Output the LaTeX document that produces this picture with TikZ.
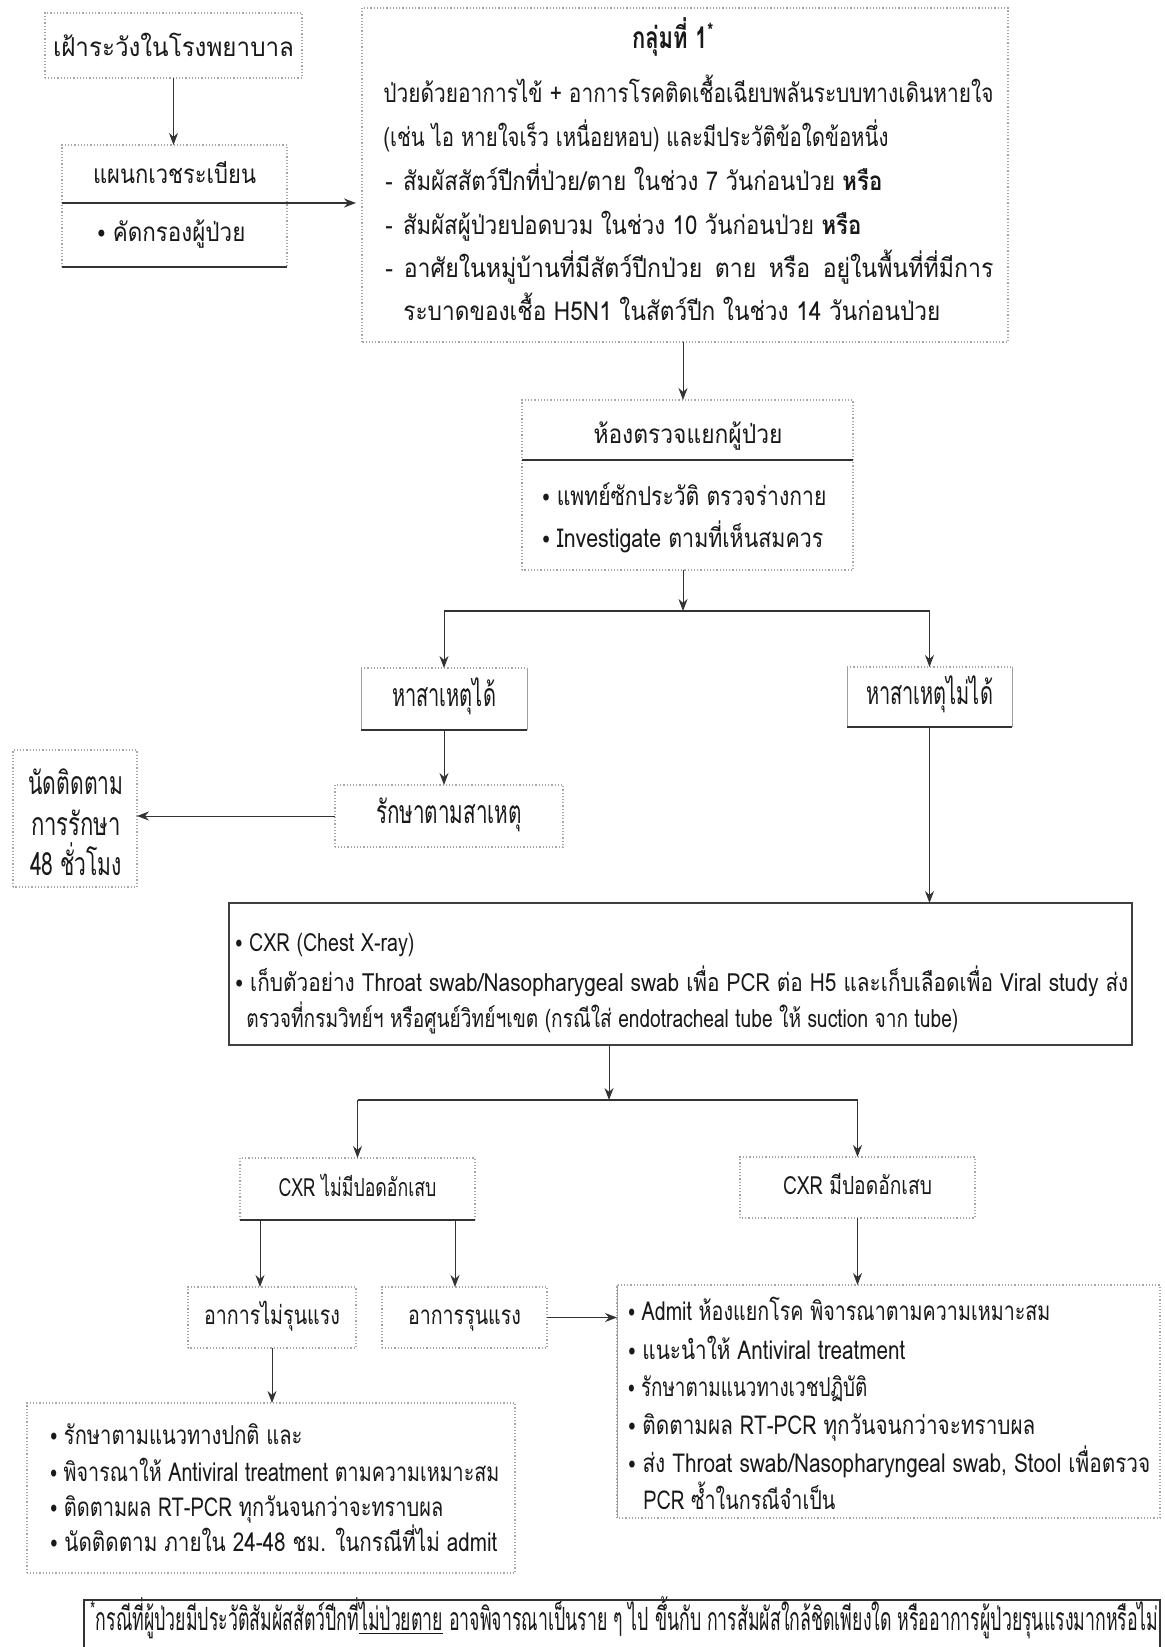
\documentclass[tikz,border=0pt]{standalone}
\usepackage{fontspec}
\usepackage{graphicx}
\setmainfont[Script=Thai]{Loma}
\newfontfamily\dvs{DejaVu Sans}
\usetikzlibrary{arrows.meta,calc}
\newsavebox\fitbox
\newcommand\fitw[2]{\sbox\fitbox{#2}\pgfmathsetmacro\fitr{#1*0.5/\the\wd\fitbox}\scalebox{\fitr}[1]{\usebox\fitbox}}
\newcommand\bul{\raisebox{-0.5pt}{\dvs\fontsize{12}{12}\selectfont •}\hspace{3pt}}
\newcommand\fA{\fontsize{13}{15}\selectfont}
\newcommand\fC{\fontsize{16}{18}\selectfont}
\newcommand\fI{\fontsize{12.5}{14}\selectfont}
\begin{document}
\begin{tikzpicture}[x=0.5pt,y=-0.5pt,
  wh/.style 2 args={minimum width=#1*0.5pt,minimum height=#2*0.5pt},
  bx/.style={inner sep=0pt,outer sep=0pt,text height=7pt,text depth=0pt,font=\fA,text=black!90},
  ln/.style={anchor=west,inner sep=0pt,text height=7pt,text depth=0pt,font=\fA,text=black!90},
  lc/.style={anchor=center,inner sep=0pt,text height=7pt,text depth=0pt,font=\fA,text=black!90},
  dotb/.style={draw=gray!70,densely dotted,line width=0.6pt},
  thinb/.style={draw=gray!75,line width=0.4pt},
  solb/.style={draw=black!80,line width=0.9pt},
  arr/.style={draw=black!80,line width=0.5pt,-{Stealth[length=6pt,width=4.5pt]}},
  brl/.style={draw=black!80,line width=1.1pt}]
\useasboundingbox[fill=white] (0,0) rectangle (1165,1647);

% ---------- boxes ----------
\node[bx,wh={257}{65}] (A) at (173.5,45.5) {};
\node[lc] (At) at (173.5,50) {\fitw{241}{เฝ้าระวังในโรงพยาบาล}};
\node[bx,wh={225}{122}] (B) at (174.5,206) {};
\node[lc] (Bt) at (174.5,177) {\fitw{163}{แผนกเวชระเบียน}};
\node[ln] (Bb) at (95,235) {\fitw{150}{\bul คัดกรองผู้ป่วย}};

\node[bx,wh={646}{334}] (C) at (685,175) {};
\node[lc,font=\fontsize{15}{17}\selectfont] (Ct) at (673,42) {\fitw{82}{\bfseries กลุ่มที่ 1\textsuperscript{*}}};
\node[ln] (c1) at (383,96) {\fitw{610}{ป่วยด้วยอาการไข้ + อาการโรคติดเชื้อเฉียบพลันระบบทางเดินหายใจ}};
\node[ln] (c2) at (383,140) {\fitw{505}{(เช่น ไอ หายใจเร็ว เหนื่อยหอบ) และมีประวัติข้อใดข้อหนึ่ง}};
\node[ln] (c3) at (385,184) {\fitw{497}{-\hspace{6pt}สัมผัสสัตว์ปีกที่ป่วย/ตาย ในช่วง 7 วันก่อนป่วย {\bfseries หรือ}}};
\node[ln] (c4) at (385,228) {\fitw{476}{-\hspace{6pt}สัมผัสผู้ป่วยปอดบวม ในช่วง 10 วันก่อนป่วย {\bfseries หรือ}}};
\node[ln] (c5) at (385,271) {\fitw{608}{-\hspace{6pt}อาศัยในหมู่บ้านที่มีสัตว์ปีกป่วย\hspace{7pt}ตาย\hspace{7pt}หรือ\hspace{7pt}อยู่ในพื้นที่ที่มีการ}};
\node[ln] (c6) at (403,314) {\fitw{537}{ระบาดของเชื้อ H5N1 ในสัตว์ปีก ในช่วง 14 วันก่อนป่วย}};

\node[bx,wh={331}{170}] (D) at (687.5,485) {};
\node[lc] (Dt) at (688,436) {\fitw{189}{ห้องตรวจแยกผู้ป่วย}};
\node[ln] (d1) at (540,498) {\fitw{286}{\bul แพทย์ซักประวัติ ตรวจร่างกาย}};
\node[ln] (d2) at (540,540) {\fitw{283}{\bul Investigate ตามที่เห็นสมควร}};

\node[bx,font=\fC,wh={166}{62}] (E) at (444,699) {\fitw{104}{หาสาเหตุได้}};
\node[bx,font=\fC,wh={228}{62}] (F) at (449,816) {\fitw{146}{รักษาตามสาเหตุ}};
\node[bx,wh={124}{137}] (G) at (75,818.5) {};
\node[lc,font=\fC] (g1) at (76,787) {\fitw{95}{นัดติดตาม}};
\node[lc,font=\fC] (g2) at (76,828) {\fitw{90}{การรักษา}};
\node[lc,font=\fC] (g3) at (76,868) {\fitw{92}{48 ชั่วโมง}};
\node[bx,font=\fC,wh={165}{60}] (H) at (929.5,697) {\fitw{127}{หาสาเหตุไม่ได้}};

\node[bx,wh={903}{142}] (I) at (680.5,974) {};
\node[ln,font=\fI] (i1) at (233,944) {\fitw{181}{\bul CXR (Chest X-ray)}};
\node[ln,font=\fI] (i2) at (233,984) {\fitw{895}{\bul เก็บตัวอย่าง Throat swab/Nasopharygeal swab เพื่อ PCR ต่อ H5 และเก็บเลือดเพื่อ Viral study ส่ง}};
\node[ln,font=\fI] (i3) at (246,1020) {\fitw{712}{ตรวจที่กรมวิทย์ฯ หรือศูนย์วิทย์ฯเขต (กรณีใส่ endotracheal tube ให้ suction จาก tube)}};

\node[bx,font=\fI,wh={235}{62}] (J) at (357.5,1189) {\fitw{158}{CXR ไม่มีปอดอักเสบ}};
\node[bx,font=\fI,wh={235}{61}] (K) at (857.5,1187.5) {\fitw{149}{CXR มีปอดอักเสบ}};
\node[bx,wh={168}{61}] (L) at (272,1317.5) {\fitw{136}{อาการไม่รุนแรง}};
\node[bx,wh={165}{61}] (M) at (464.5,1317.5) {\fitw{113}{อาการรุนแรง}};

\node[bx,wh={488}{170}] (N) at (271,1488) {};
\node[ln] (n1) at (48,1437) {\fitw{254}{\bul รักษาตามแนวทางปกติ และ}};
\node[ln] (n2) at (48,1474) {\fitw{451}{\bul พิจารณาให้ Antiviral treatment ตามความเหมาะสม}};
\node[ln] (n3) at (48,1509) {\fitw{395}{\bul ติดตามผล RT-PCR ทุกวันจนกว่าจะทราบผล}};
\node[ln] (n4) at (48,1544) {\fitw{449}{\bul นัดติดตาม ภายใน 24-48 ชม. ในกรณีที่ไม่ admit}};

\node[bx,wh={543}{233}] (O) at (888.5,1401.5) {};
\node[ln] (o1) at (626,1313) {\fitw{424}{\bul Admit ห้องแยกโรค พิจารณาตามความเหมาะสม}};
\node[ln] (o2) at (626,1352) {\fitw{279}{\bul แนะนำให้ Antiviral treatment}};
\node[ln] (o3) at (626,1389) {\fitw{241}{\bul รักษาตามแนวทางเวชปฏิบัติ}};
\node[ln] (o4) at (626,1427) {\fitw{409}{\bul ติดตามผล RT-PCR ทุกวันจนกว่าจะทราบผล}};
\node[ln] (o5) at (626,1465) {\fitw{524}{\bul ส่ง Throat swab/Nasopharyngeal swab, Stool เพื่อตรวจ}};
\node[ln] (o6) at (643,1502) {\fitw{192}{PCR ซ้ำในกรณีจำเป็น}};

\node[bx,wh={1076}{80}] (P) at (622,1640) {};
\node[ln,font=\fC] (p1) at (90,1623) {\fitw{1068}{\textsuperscript{*}กรณีที่ผู้ป่วยมีประวัติสัมผัสสัตว์ปีกที่\underline{ไม่ป่วยตาย} อาจพิจารณาเป็นราย ๆ ไป ขึ้นกับ การสัมผัสใกล้ชิดเพียงใด หรืออาการผู้ป่วยรุนแรงมากหรือไม่}};

% ---------- borders ----------
\draw[dotb] (A.south west) rectangle (A.north east);
\draw[dotb] (B.south west) -- (B.north west) -- (B.north east) -- (B.south east);
\draw[solb] (B.south west) -- (B.south east);
\draw[dotb] (C.south west) rectangle (C.north east);
\draw[dotb] (D.south west) rectangle (D.north east);
\draw[solb] (D.west |- 0,460) -- (D.east |- 0,460);
\draw[dotb] (E.north west) -- (E.north east);
\draw[thinb] (E.north west) -- (E.south west) (E.north east) -- (E.south east);
\draw[solb] (E.south west) -- (E.south east);
\draw[dotb] (F.south west) rectangle (F.north east);
\draw[dotb] (G.south west) rectangle (G.north east);
\draw[dotb] (H.north west) -- (H.north east);
\draw[thinb] (H.north west) -- (H.south west) (H.north east) -- (H.south east);
\draw[solb] (H.south west) -- (H.south east);
\draw[draw=black!75,line width=0.7pt] (I.south west) rectangle (I.north east);
\draw[dotb] (J.south west) -- (J.north west) -- (J.north east) -- (J.south east);
\draw[solb] (J.south west) -- (J.south east);
\draw[dotb] (K.south west) rectangle (K.north east);
\draw[dotb] (L.south west) rectangle (L.north east);
\draw[dotb] (M.south west) rectangle (M.north east);
\draw[dotb] (N.south west) rectangle (N.north east);
\draw[dotb] (O.south west) rectangle (O.north east);
\draw[thinb] (O.north west) -- (O.south west);
\draw[solb] (P.south west) rectangle (P.north east);

% ---------- connectors ----------
\coordinate (bd) at (62,203);
\coordinate (br1) at (683,611);
\coordinate (br2) at (609,1100);
\coordinate (jl) at ($(J.south west)+(20,0)$);
\coordinate (jr) at ($(J.south west)+(215,0)$);

\draw[arr] (A.south) -- (A.south |- B.north);
\draw[arr,line width=0.9pt] (bd) -- ([xshift=-3pt]bd -| C.west);
\draw[arr] (br1 |- C.south) -- (br1 |- D.north);
\draw[arr] (br1 |- D.south) -- (br1);
\draw[brl] (E.north |- br1) -- (H.north |- br1);
\draw[arr] (E.north |- br1) -- (E.north);
\draw[arr] (H.north |- br1) -- (H.north);
\draw[arr] (E.south) -- (E.south |- F.north);
\draw[arr] (F.west) -- (F.west -| G.east);
\draw[arr] (H.south) -- (H.south |- I.north);
\draw[arr] (br2 |- I.south) -- (br2);
\draw[brl] (J.north |- br2) -- (K.north |- br2);
\draw[arr] (J.north |- br2) -- (J.north);
\draw[arr] (K.north |- br2) -- (K.north);
\draw[arr] (jl) -- (jl |- L.north);
\draw[arr] (jr) -- (jr |- M.north);
\draw[arr] (K.south) -- (K.south |- O.north);
\draw[arr] (L.south) -- (L.south |- N.north);
\draw[arr] (M.east) -- (M.east -| O.west);
\end{tikzpicture}
\end{document}
